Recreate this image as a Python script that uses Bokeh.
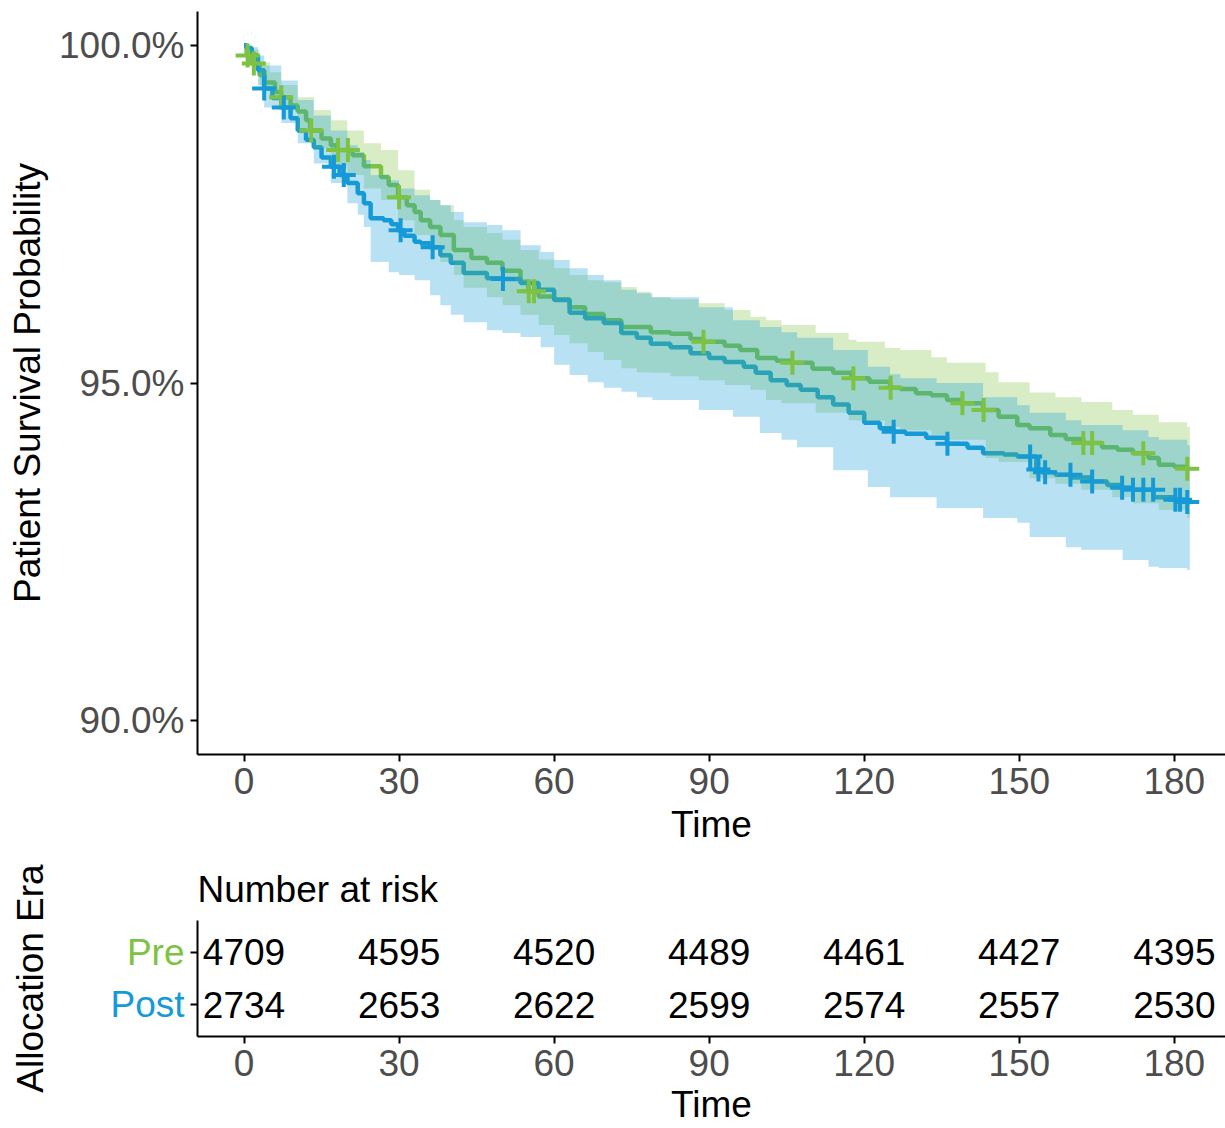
import numpy as np
from bokeh.plotting import figure
from bokeh.models import Range1d, FixedTicker, PrintfTickFormatter, ColumnDataSource, CustomLabelingPolicy
from bokeh.layouts import column, row
from bokeh.embed import file_html
from bokeh.resources import INLINE

FONT = "Liberation Sans"
FS = "37px"
PRE_COLOR = "#7DC242"
POST_COLOR = "#159AD7"
TICK_GREY = "#4D4D4D"

# ---------------- data ----------------
time_ticks = [0, 30, 60, 90, 120, 150, 180]
surv_ticks = [90, 95, 100]

pre_time = [0, 0.5, 1.4, 3, 4, 6, 7.2, 9, 10.4, 12, 12.8, 15, 16.8, 18, 21, 23.2, 26.5, 28, 29.8, 31.5,
            33, 34.2, 36, 38, 40.6, 44, 47, 50, 53.5, 55, 57, 60, 63, 66, 69.6, 73, 78.7, 82.5, 86.4, 88.9,
            93, 96, 99.3, 103, 106, 110, 114, 117.5, 121, 125, 127, 130, 133, 136, 138.6, 143, 146, 149.6, 152, 156,
            159, 162.4, 166, 169, 172, 175, 177, 180, 182.5, 183]
pre_surv = [100.00, 99.85, 99.73, 99.56, 99.45, 99.31, 99.23, 99.11, 99.02, 98.89, 98.74, 98.62, 98.52, 98.45, 98.37, 98.21, 98.05, 97.93, 97.75, 97.63,
            97.53, 97.41, 97.31, 97.19, 96.97, 96.85, 96.78, 96.66, 96.50, 96.36, 96.28, 96.24, 96.12, 96.02, 95.93, 95.83, 95.75, 95.73, 95.65, 95.61,
            95.55, 95.49, 95.37, 95.33, 95.30, 95.21, 95.15, 95.07, 95.02, 94.93, 94.91, 94.85, 94.82, 94.75, 94.70, 94.60, 94.50, 94.38, 94.33, 94.23,
            94.17, 94.11, 94.05, 94.01, 93.96, 93.89, 93.79, 93.76, 93.73, 93.73]

post_time = [0, 0.5, 1.5, 2.7, 3.9, 5.5, 7.2, 9, 10.4, 12, 13.5, 15, 16.8, 18.5, 20, 22, 23.2, 24.5, 27, 28.5,
             29.8, 31, 33, 34.2, 36, 38, 40, 42.5, 47, 50, 53.5, 57, 60, 63, 66, 69.6, 73, 76, 78.7, 82.5,
             86.4, 90, 93, 96.7, 99, 101.9, 105, 107.7, 111, 114, 117, 120, 123, 125.6, 128, 132, 136, 140, 143, 147,
             149.6, 153.3, 154.5, 157, 160, 164, 167, 169.5, 172, 176, 180, 182.5, 183]
post_surv = [100.00, 99.96, 99.85, 99.63, 99.36, 99.22, 99.08, 98.92, 98.74, 98.60, 98.49, 98.34, 98.20, 98.08, 97.96, 97.81, 97.66, 97.44, 97.41, 97.35,
             97.26, 97.18, 97.09, 97.07, 97.01, 96.89, 96.78, 96.63, 96.55, 96.54, 96.48, 96.38, 96.23, 96.04, 95.96, 95.89, 95.74, 95.67, 95.58, 95.53,
             95.44, 95.37, 95.31, 95.24, 95.15, 95.04, 94.97, 94.90, 94.79, 94.68, 94.56, 94.41, 94.33, 94.28, 94.25, 94.19, 94.10, 94.04, 93.96, 93.94,
             93.91, 93.72, 93.68, 93.64, 93.60, 93.54, 93.49, 93.45, 93.42, 93.31, 93.27, 93.24, 93.24]

pre_band_time = [0, 1, 3, 5, 7.2, 10.4, 13.5, 16.8, 20, 23.2, 26.5, 29.8, 33, 36, 38, 40.6, 42.5, 47, 50, 53.5,
                 57, 60, 63, 66.5, 69.6, 73, 76, 78.7, 82.5, 88, 93, 98, 101, 104, 110.6, 117, 118.5, 124, 127, 133,
                 136, 143.5, 146, 152, 157, 162, 168, 172, 177, 182.5, 183]
pre_upper = [100.00, 99.93, 99.75, 99.60, 99.41, 99.23, 99.04, 98.89, 98.74, 98.55, 98.45, 98.15, 97.86, 97.71, 97.63, 97.41, 97.31, 97.22, 97.12, 96.97,
             96.83, 96.70, 96.60, 96.52, 96.49, 96.42, 96.35, 96.27, 96.24, 96.18, 96.08, 95.98, 95.93, 95.86, 95.74, 95.64, 95.61, 95.52, 95.49, 95.38,
             95.30, 95.16, 95.01, 94.86, 94.79, 94.72, 94.60, 94.53, 94.42, 94.35, 94.35]
pre_lower = [100.00, 99.70, 99.36, 99.19, 99.04, 98.77, 98.48, 98.22, 98.08, 97.88, 97.71, 97.41, 97.19, 96.97, 96.79, 96.60, 96.41, 96.27, 96.15, 96.01,
             95.86, 95.71, 95.59, 95.46, 95.34, 95.22, 95.16, 95.15, 95.10, 95.04, 94.97, 94.90, 94.75, 94.70, 94.56, 94.45, 94.44, 94.35, 94.30, 94.23,
             94.16, 93.89, 93.83, 93.59, 93.51, 93.42, 93.31, 93.22, 93.12, 93.00, 93.00]

post_band_time = [0, 1.5, 2.7, 3.9, 7.2, 10.4, 13.5, 16.8, 20, 22, 23.2, 24.5, 28, 30, 33, 36, 38, 40, 42.5, 47,
                  50, 53.5, 57.4, 60, 63, 66.5, 69.6, 73, 76, 79, 88, 94.6, 99.8, 104, 107, 114, 120.7, 125, 127, 134,
                  143, 149.6, 152, 159, 162, 170, 175, 177, 182.5, 183]
post_upper = [100.00, 99.97, 99.85, 99.70, 99.48, 99.19, 98.96, 98.74, 98.52, 98.42, 98.30, 98.08, 98.00, 97.88, 97.78, 97.71, 97.63, 97.53, 97.38, 97.34,
              97.26, 97.04, 96.94, 96.82, 96.70, 96.60, 96.52, 96.38, 96.33, 96.27, 96.12, 95.93, 95.83, 95.75, 95.67, 95.49, 95.24, 95.13, 95.07, 95.00,
              94.79, 94.67, 94.56, 94.45, 94.38, 94.30, 94.20, 94.16, 94.08, 94.08]
post_lower = [100.00, 99.70, 99.41, 99.08, 98.85, 98.55, 98.25, 97.96, 97.66, 97.49, 97.31, 96.79, 96.64, 96.60, 96.52, 96.30, 96.15, 96.01, 95.90, 95.78,
              95.74, 95.68, 95.53, 95.27, 95.12, 95.01, 94.93, 94.87, 94.79, 94.75, 94.60, 94.50, 94.26, 94.16, 94.05, 93.71, 93.46, 93.31, 93.31, 93.15,
              93.00, 92.93, 92.72, 92.57, 92.53, 92.38, 92.28, 92.26, 92.23, 92.23]

pre_censor_time = [0.7, 1.9, 7.2, 13.0, 18.2, 20.1, 30.0, 55.1, 56.1, 88.9, 106.1, 117.9, 125.1, 139.0, 143.1,
                   162.4, 164.1, 174.0, 182.5]
post_censor_time = [3.9, 7.7, 17.4, 19.3, 30.3, 36.5, 50.1, 125.7, 136.1, 152.1, 153.7, 155.0, 159.9, 164.1,
                    169.9, 172.0, 174.0, 175.9, 180.2, 181.1, 182.5]

strata = ["Pre", "Post"]
strata_colors = [PRE_COLOR, POST_COLOR]
strata_rows = [2, 1]
risk_times = [0, 30, 60, 90, 120, 150, 180]
risk_pre = [4709, 4595, 4520, 4489, 4461, 4427, 4395]
risk_post = [2734, 2653, 2622, 2599, 2574, 2557, 2530]


def step_at(times, surv, t):
    idx = np.searchsorted(np.asarray(times), np.asarray(t), side="right") - 1
    return list(np.asarray(surv)[idx])


def style_axis(ax, label_standoff, axis_label_standoff):
    ax.axis_line_width = 2
    ax.axis_line_color = "black"
    ax.major_tick_line_width = 2
    ax.major_tick_line_color = "black"
    ax.major_tick_out = 7
    ax.major_tick_in = 0
    ax.minor_tick_line_color = None
    ax.major_label_text_font = FONT
    ax.major_label_text_font_size = FS
    ax.major_label_text_color = TICK_GREY
    ax.major_label_standoff = label_standoff
    ax.axis_label_text_font = FONT
    ax.axis_label_text_font_size = FS
    ax.axis_label_text_font_style = "normal"
    ax.axis_label_text_color = "black"
    ax.axis_label_standoff = axis_label_standoff


W = 1225
LEFT = 197
x_range = Range1d(-9.0, 189.9)

# ---------------- survival plot ----------------
p = figure(width=W, height=847, x_range=x_range, y_range=Range1d(89.5, 100.5),
           output_backend="svg", toolbar_location=None, title=None,
           min_border_left=LEFT, min_border_right=0, min_border_top=11, min_border_bottom=92,
           x_axis_label="Time", y_axis_label="Patient Survival Probability")
p.grid.visible = False
p.outline_line_color = None

p.step(pre_time, pre_surv, mode="after", line_color=PRE_COLOR, line_width=4.5)
p.step(post_time, post_surv, mode="after", line_color=POST_COLOR, line_width=4.5)
p.varea_step(x=pre_band_time, y1=pre_lower, y2=pre_upper, step_mode="after",
             fill_color=PRE_COLOR, fill_alpha=0.3)
p.varea_step(x=post_band_time, y1=post_lower, y2=post_upper, step_mode="after",
             fill_color=POST_COLOR, fill_alpha=0.3)
p.scatter(pre_censor_time, step_at(pre_time, pre_surv, pre_censor_time), marker="cross",
          size=24, line_color=PRE_COLOR, line_width=4)
p.scatter(post_censor_time, step_at(post_time, post_surv, post_censor_time), marker="cross",
          size=24, line_color=POST_COLOR, line_width=4)

p.xaxis.ticker = FixedTicker(ticks=time_ticks)
p.yaxis.ticker = FixedTicker(ticks=surv_ticks)
p.yaxis.formatter = PrintfTickFormatter(format="%.1f%%")
style_axis(p.xaxis[0], 6, 7)
style_axis(p.yaxis[0], 6, 8)

# ---------------- risk table ----------------
T_H = 280
T_TOP = 73
T_BOT = 88
STRIP = 185  # width of the strata label column
y_range_t = Range1d(0.4, 2.6)

# strata label column (left of the table)
lf = figure(width=STRIP, height=T_H, x_range=Range1d(0, 1), y_range=y_range_t,
            output_backend="svg", toolbar_location=None, x_axis_location=None, title=None,
            min_border_left=57, min_border_right=0, min_border_top=T_TOP, min_border_bottom=T_BOT,
            y_axis_label="Allocation Era")
lf.grid.visible = False
lf.outline_line_color = None
lf.yaxis.ticker = FixedTicker(ticks=[])
style_axis(lf.yaxis[0], 0, 7)
lf.yaxis.axis_line_color = None
lf.yaxis.major_tick_line_color = None
lf.text(x=[1] * len(strata), y=strata_rows, text=strata, text_color=strata_colors,
        x_offset=-1, text_align="right", text_baseline="middle",
        text_font_size=FS, text_font={"value": FONT})

p2 = figure(width=W - STRIP, height=T_H, x_range=x_range, y_range=y_range_t,
            output_backend="svg", toolbar_location=None,
            min_border_left=LEFT - STRIP, min_border_right=0, min_border_top=T_TOP, min_border_bottom=T_BOT,
            x_axis_label="Time", title="Number at risk")
p2.grid.visible = False
p2.outline_line_color = None
p2.title.text_font = FONT
p2.title.text_font_size = FS
p2.title.text_font_style = "normal"
p2.title.text_color = "black"
p2.title.align = "left"
p2.title.offset = 0
p2.title.standoff = 21

for counts, r in zip([risk_pre, risk_post], strata_rows):
    src = ColumnDataSource(dict(x=risk_times, y=[r] * len(risk_times), t=[str(c) for c in counts]))
    p2.text(x="x", y="y", text="t", source=src, text_align="center", text_baseline="middle",
            text_font_size=FS, text_color="black", text_font={"value": FONT})

p2.xaxis.ticker = FixedTicker(ticks=time_ticks)
p2.yaxis.ticker = FixedTicker(ticks=strata_rows)
style_axis(p2.xaxis[0], 6, 5)
style_axis(p2.yaxis[0], 0, 0)
# the strata names are drawn in the label column; the table axis only carries the tick marks
p2.yaxis.major_label_text_font_size = "1px"
p2.yaxis.major_label_policy = CustomLabelingPolicy(code="for (const i of indices) indices.unset(i)")

layout = column(p, row(lf, p2, spacing=0), spacing=0)
open("out.html", "w").write(file_html(layout, INLINE))
